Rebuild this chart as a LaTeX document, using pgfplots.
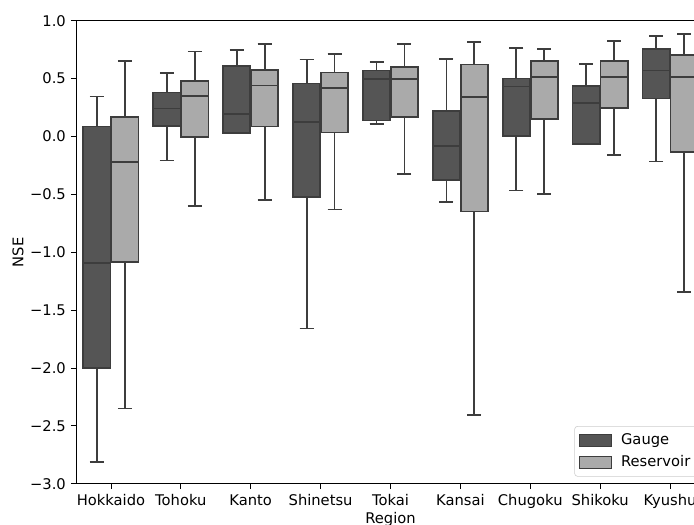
\documentclass[border=0pt]{standalone}
\usepackage{pgfplots}
\pgfplotsset{compat=1.18}
\usepgfplotslibrary{statistics}
\usepackage{fontspec}
\setmainfont{DejaVu Sans}
\definecolor{gauge}{HTML}{555555}
\definecolor{resv}{HTML}{AAAAAA}
\definecolor{edge}{HTML}{3D3D3D}
\definecolor{legframe}{HTML}{CCCCCC}
\begin{document}
\begin{tikzpicture}
\begin{axis}[
  scale only axis,
  width=427.72pt, height=314.84pt,
  xmin=-0.5, xmax=8.5, ymin=-3, ymax=1,
  xtick={0,1,2,3,4,5,6,7,8},
  xticklabels={Hokkaido,Tohoku,Kanto,Shinetsu,Tokai,Kansai,Chugoku,Shikoku,Kyushu},
  xticklabel style={text height=7.6pt, text depth=2.4pt},
  ytick={-3,-2.5,-2,-1.5,-1,-0.5,0,0.5,1},
  yticklabels={−3.0,−2.5,−2.0,−1.5,−1.0,−0.5,0.0,0.5,1.0},
  tick pos=left, tick align=outside,
  major tick length=3.4pt,
  tick style={black, line width=0.6pt},
  axis line style={black, line width=0.6pt},
  xlabel={Region}, ylabel={NSE},
  every axis x label/.style={at={(axis description cs:0.5,0)}, anchor=center, yshift=-24pt},
  every axis y label/.style={at={(axis description cs:0,0.5)}, anchor=center, rotate=90, yshift=39.4pt},
  boxplot/draw direction=y,
  boxplot/box extend=0.39,
  boxplot/whisker extend=0.2,
  boxplot/every whisker/.style={line width=1.2pt, draw=edge},
  boxplot/every box/.style={line width=1.2pt, draw=edge},
  boxplot/every median/.style={line width=1.2pt, draw=edge},
  gs/.style={fill=gauge, draw=edge, line width=1.2pt, solid, forget plot},
  rs/.style={fill=resv, draw=edge, line width=1.2pt, solid, forget plot},
  legend style={at={(axis description cs:1,0)}, anchor=south east, xshift=-4.8pt, yshift=4.8pt,
    draw=legframe, rounded corners=2pt, fill=white,
    row sep=2pt, inner sep=3pt},
  legend cell align=left,
]
% Hokkaido
\addplot[gs, boxplot prepared={draw position=-0.2, lower whisker=-2.81, lower quartile=-2.00, median=-1.09, upper quartile=0.086, upper whisker=0.345}] coordinates {};
\addplot[rs, boxplot prepared={draw position=0.2, lower whisker=-2.35, lower quartile=-1.086, median=-0.221, upper quartile=0.170, upper whisker=0.649}] coordinates {};
% Tohoku
\addplot[gs, boxplot prepared={draw position=0.8, lower whisker=-0.207, lower quartile=0.089, median=0.241, upper quartile=0.379, upper whisker=0.546}] coordinates {};
\addplot[rs, boxplot prepared={draw position=1.2, lower whisker=-0.598, lower quartile=-0.003, median=0.351, upper quartile=0.480, upper whisker=0.733}] coordinates {};
% Kanto
\addplot[gs, boxplot prepared={draw position=1.8, lower whisker=0.029, lower quartile=0.029, median=0.195, upper quartile=0.609, upper whisker=0.747}] coordinates {};
\addplot[rs, boxplot prepared={draw position=2.2, lower whisker=-0.549, lower quartile=0.086, median=0.440, upper quartile=0.572, upper whisker=0.799}] coordinates {};
% Shinetsu
\addplot[gs, boxplot prepared={draw position=2.8, lower whisker=-1.660, lower quartile=-0.526, median=0.124, upper quartile=0.457, upper whisker=0.664}] coordinates {};
\addplot[rs, boxplot prepared={draw position=3.2, lower whisker=-0.632, lower quartile=0.034, median=0.420, upper quartile=0.552, upper whisker=0.713}] coordinates {};
% Tokai
\addplot[gs, boxplot prepared={draw position=3.8, lower whisker=0.109, lower quartile=0.138, median=0.497, upper quartile=0.569, upper whisker=0.641}] coordinates {};
\addplot[rs, boxplot prepared={draw position=4.2, lower whisker=-0.325, lower quartile=0.167, median=0.497, upper quartile=0.603, upper whisker=0.802}] coordinates {};
% Kansai
\addplot[gs, boxplot prepared={draw position=4.8, lower whisker=-0.563, lower quartile=-0.374, median=-0.080, upper quartile=0.218, upper whisker=0.672}] coordinates {};
\addplot[rs, boxplot prepared={draw position=5.2, lower whisker=-2.405, lower quartile=-0.649, median=0.339, upper quartile=0.621, upper whisker=0.813}] coordinates {};
% Chugoku
\addplot[gs, boxplot prepared={draw position=5.8, lower whisker=-0.466, lower quartile=0.003, median=0.431, upper quartile=0.500, upper whisker=0.761}] coordinates {};
\addplot[rs, boxplot prepared={draw position=6.2, lower whisker=-0.494, lower quartile=0.152, median=0.511, upper quartile=0.655, upper whisker=0.753}] coordinates {};
% Shikoku
\addplot[gs, boxplot prepared={draw position=6.8, lower whisker=-0.063, lower quartile=-0.063, median=0.287, upper quartile=0.434, upper whisker=0.629}] coordinates {};
\addplot[rs, boxplot prepared={draw position=7.2, lower whisker=-0.158, lower quartile=0.247, median=0.511, upper quartile=0.652, upper whisker=0.828}] coordinates {};
% Kyushu
\addplot[gs, boxplot prepared={draw position=7.8, lower whisker=-0.216, lower quartile=0.328, median=0.569, upper quartile=0.756, upper whisker=0.868}] coordinates {};
\addplot[rs, boxplot prepared={draw position=8.2, lower whisker=-1.345, lower quartile=-0.132, median=0.511, upper quartile=0.704, upper whisker=0.885}] coordinates {};
% legend
\addlegendimage{legend image code/.code={\path[draw=none, fill=none] (0pt,0pt) -- (26.2pt,0pt); \draw[sharp corners, fill=gauge, draw=edge, line width=0.8pt] (0pt,-4pt) rectangle (21.5pt,4pt);}}
\addlegendentry{Gauge}
\addlegendimage{legend image code/.code={\path[draw=none, fill=none] (0pt,0pt) -- (26.2pt,0pt); \draw[sharp corners, fill=resv, draw=edge, line width=0.8pt] (0pt,-4pt) rectangle (21.5pt,4pt);}}
\addlegendentry{Reservoir}
\end{axis}
\pgfresetboundingbox
\useasboundingbox (-51.68pt,-27.88pt) rectangle (420.24pt,328.92pt);
\end{tikzpicture}
\end{document}
